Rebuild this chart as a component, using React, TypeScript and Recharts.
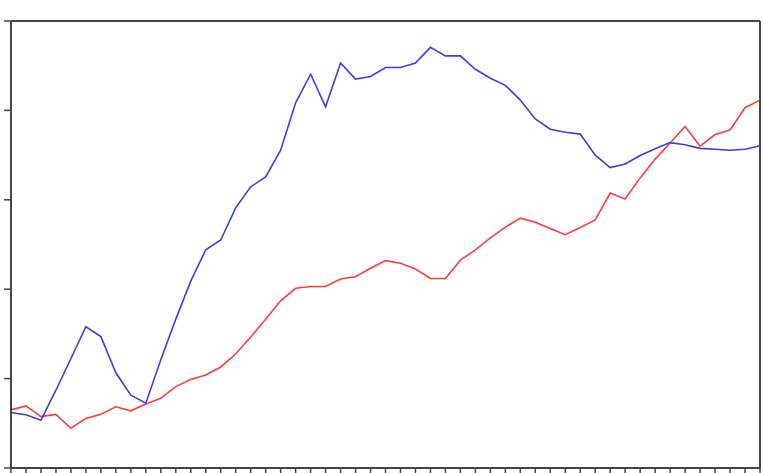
import React from "react";
import { Line, LineChart, XAxis, YAxis } from "recharts";

const periods = [
  0, 1, 2, 3, 4, 5, 6, 7, 8, 9, 10, 11, 12, 13, 14, 15, 16, 17, 18, 19, 20, 21, 22, 23, 24, 25,
  26, 27, 28, 29, 30, 31, 32, 33, 34, 35, 36, 37, 38, 39, 40, 41, 42, 43, 44, 45, 46, 47, 48, 49, 50,
];

const blueSeries = [
  12.4, 11.9, 10.7, 17.4, 24.5, 31.6, 29.4, 21.3, 16.3, 14.5, 24.2, 33.3, 41.8, 48.8, 51.0, 58.2,
  62.9, 65.1, 71.1, 81.7, 88.1, 80.8, 90.6, 87.0, 87.6, 89.6, 89.6, 90.6, 94.1, 92.2, 92.2, 89.2,
  87.2, 85.6, 82.3, 78.1, 75.8, 75.1, 74.7, 70.0, 67.2, 68.0, 69.9, 71.4, 72.8, 72.3, 71.5, 71.3,
  71.1, 71.3, 72.1,
];

const redSeries = [
  13.0, 13.9, 11.5, 12.0, 8.9, 11.1, 12.0, 13.7, 12.8, 14.3, 15.6, 18.2, 19.8, 20.8, 22.6, 25.5,
  29.3, 33.3, 37.4, 40.2, 40.6, 40.6, 42.3, 42.8, 44.7, 46.4, 45.8, 44.5, 42.4, 42.4, 46.5, 48.8,
  51.5, 53.9, 55.9, 55.0, 53.6, 52.2, 53.8, 55.5, 61.5, 60.2, 64.9, 69.1, 72.7, 76.4, 72.0, 74.6,
  75.6, 80.6, 82.3,
];

const yTicks = [0, 20, 40, 60, 80, 100];

const data = periods.map((p, i) => ({ period: p, blue: blueSeries[i], red: redSeries[i] }));

const frame = "#444";

export default function App() {
  return (
    <div style={{ position: "absolute", left: 0, top: 0, background: "#fff" }}>
      <LineChart width={764} height={473} data={data} margin={{ top: 20, right: 3, left: 4, bottom: 0 }}>
        <XAxis
          dataKey="period"
          type="number"
          domain={[0, 50]}
          ticks={periods}
          interval={0}
          height={5}
          tickSize={5}
          tickFormatter={() => ""}
          axisLine={{ stroke: frame, strokeWidth: 2 }}
          tickLine={{ stroke: frame, strokeWidth: 1.5 }}
        />
        <XAxis
          xAxisId="top"
          orientation="top"
          dataKey="period"
          type="number"
          domain={[0, 50]}
          height={1}
          tick={false}
          tickLine={false}
          axisLine={{ stroke: frame, strokeWidth: 2 }}
        />
        <YAxis
          domain={[0, 100]}
          ticks={yTicks}
          width={7}
          tickSize={7}
          tickFormatter={() => ""}
          axisLine={{ stroke: frame, strokeWidth: 2 }}
          tickLine={{ stroke: frame, strokeWidth: 1.5 }}
        />
        <YAxis
          yAxisId="right"
          orientation="right"
          domain={[0, 100]}
          width={1}
          tick={false}
          tickLine={false}
          axisLine={{ stroke: frame, strokeWidth: 2 }}
        />
        <Line
          type="linear"
          dataKey="red"
          stroke="#ff3b3b"
          strokeWidth={1.6}
          dot={false}
          isAnimationActive={false}
        />
        <Line
          type="linear"
          dataKey="blue"
          stroke="#3b3bf0"
          strokeWidth={1.6}
          dot={false}
          isAnimationActive={false}
        />
      </LineChart>
    </div>
  );
}
